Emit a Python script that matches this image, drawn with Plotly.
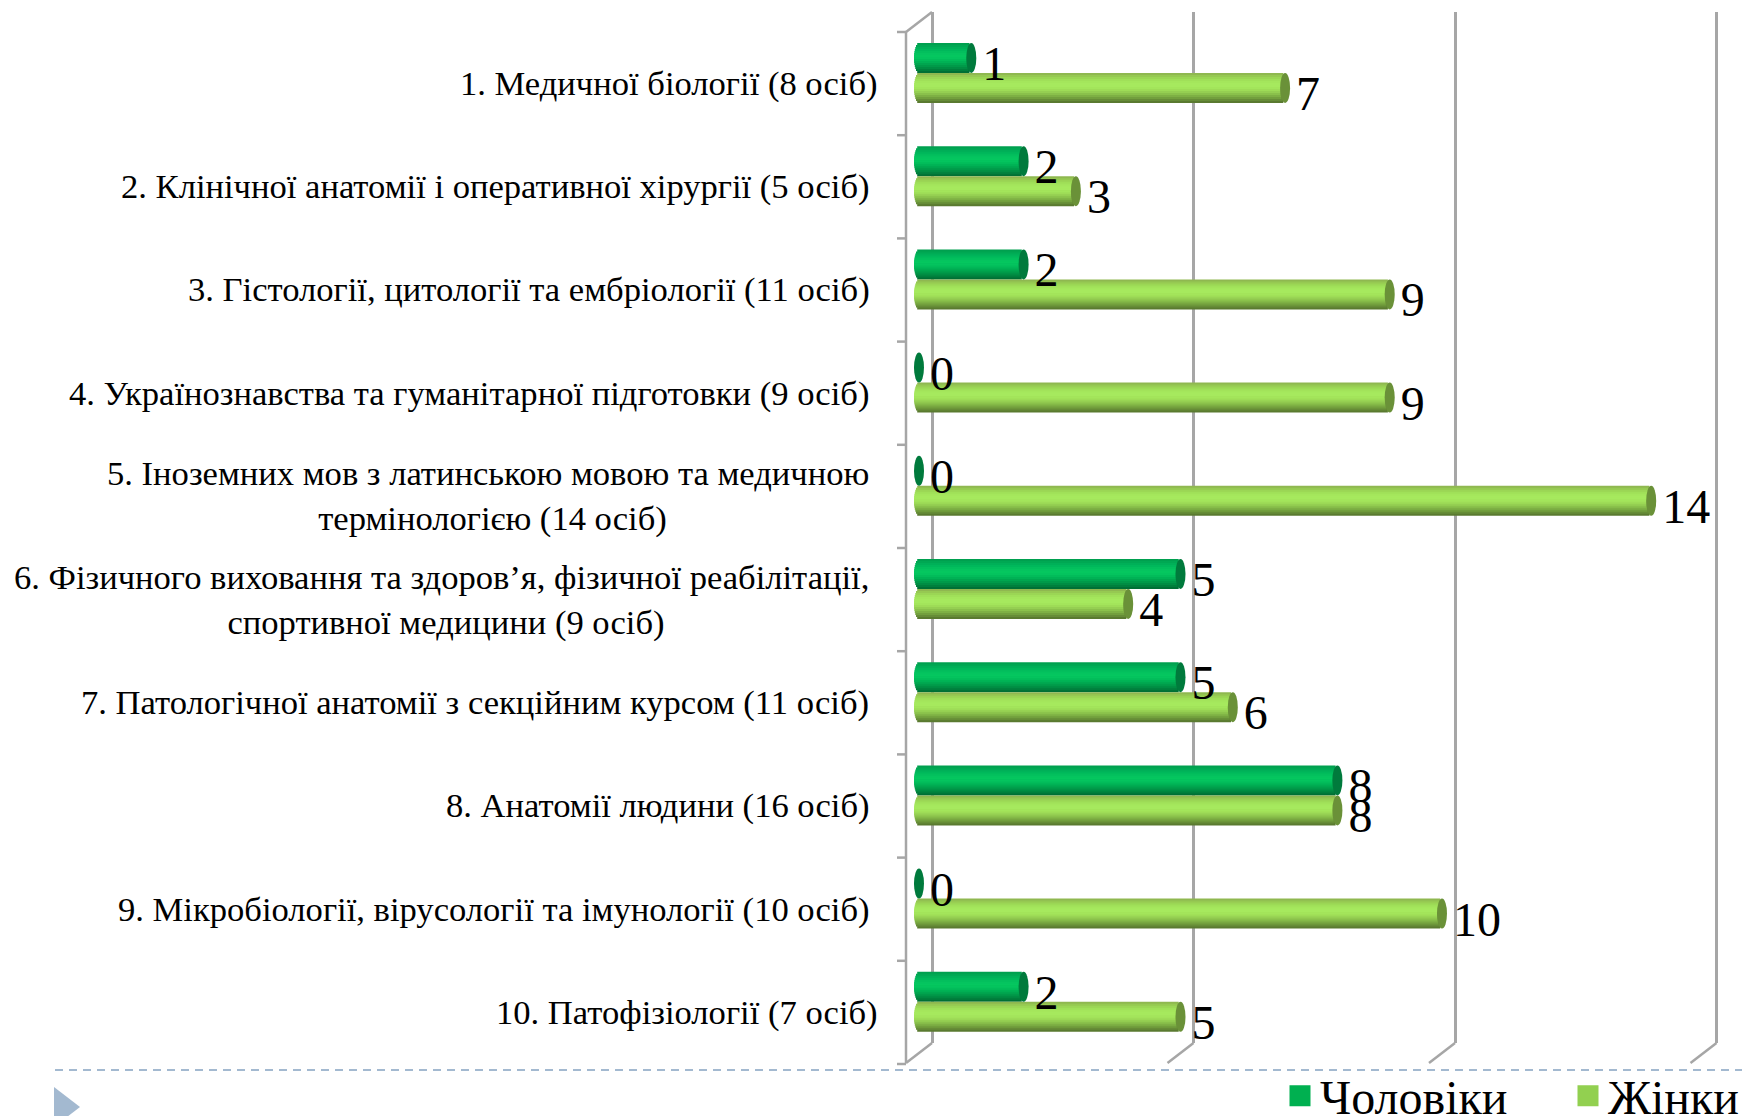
import numpy as np
import plotly.graph_objects as go

W, H = 1742, 1116

departments = [
    "1. Медичної біології (8 осіб)",
    "2. Клінічної анатомії і оперативної хірургії (5 осіб)\u00a0",
    "3. Гістології, цитології та ембріології (11 осіб)\u00a0",
    "4. Українознавства та гуманітарної підготовки (9 осіб)\u00a0",
    "5. Іноземних мов з латинською мовою та медичною\u00a0<br>термінологією (14 осіб)",
    "6. Фізичного виховання та здоров’я, фізичної реабілітації,\u00a0<br>спортивної медицини (9 осіб)",
    "7. Патологічної анатомії з секційним курсом (11 осіб)\u00a0",
    "8. Анатомії людини (16 осіб)\u00a0",
    "9. Мікробіології, вірусології та імунології (10 осіб)\u00a0",
    "10. Патофізіології (7 осіб)",
]
men = [1, 2, 2, 0, 0, 5, 5, 8, 0, 2]
women = [7, 3, 9, 9, 14, 4, 6, 8, 10, 5]
grid_values = [0, 5, 10, 15]

men_shades = ["#00a04f", "#00a853", "#00b058", "#00b85b", "#03bf5d", "#05c45f", "#05c75f", "#04c45e",
              "#02bc5a", "#00b255", "#00a64f", "#009a49", "#008d43", "#007f3c", "#007035"]
women_shades = ["#8fb850", "#96c952", "#9bd655", "#a0e059", "#a4e65c", "#a6e95e", "#a6e95e", "#a3e55b",
                "#9edc57", "#95cf52", "#8ac14b", "#7eb044", "#729f3d", "#668c37", "#5a7a30"]

# pixel layout of the picture
zero_px, unit_px = 919, 52.3
first_px, pitch_px = 73, 103.2
top_px, bottom_px = 12, 1043
depth_x, depth_y = 13, 10


def x_of(px):
    return (px - zero_px) / unit_px


def y_of(px):
    return (px - first_px) / pitch_px


def fx(px):
    return px / W


def fy(px):
    return 1 - px / H


positions = np.arange(len(departments))
bar_h = 30 / pitch_px
cap = 5 / unit_px
n_bands = len(men_shades)
band_h = bar_h / n_bands

fig = go.Figure()


def add_cylinder(values, shades, start, cap_color):
    # outer bands first, each reaching to the middle, so no gaps show between them
    mid = (n_bands - 1) / 2
    for b in sorted(range(n_bands), key=lambda i: -abs(i - mid)):
        t = (b + 0.5) / n_bands * 2 - 1
        inset = cap * np.sqrt(1 - t**2)
        if b < mid:
            off, wid = start + b * band_h, (mid - b + 1) * band_h
        else:
            off, wid = start + mid * band_h, (b - mid + 1) * band_h
        fig.add_trace(
            go.Bar(
                y=positions,
                x=values,
                base=-inset,
                orientation="h",
                offset=off,
                width=wid,
                marker=dict(color=shades[b], line=dict(width=0)),
                showlegend=False,
                hoverinfo="skip",
            )
        )
    for pos, val in zip(positions, values):
        fig.add_shape(
            type="circle",
            xref="x",
            yref="y",
            x0=val - cap,
            x1=val + cap,
            y0=pos + start,
            y1=pos + start + bar_h,
            fillcolor=cap_color,
            line=dict(width=0),
        )


add_cylinder(men, men_shades, -bar_h, "#007a3c")
add_cylinder(women, women_shades, 0, "#6a9138")

label_font = dict(family="Liberation Serif", size=48, color="black")
for values, shift in ((men, -bar_h / 2), (women, bar_h / 2)):
    fig.add_trace(
        go.Scatter(
            x=np.array(values) + cap + 6 / unit_px,
            y=positions + shift + 10 / pitch_px,
            mode="text",
            text=[str(v) for v in values],
            textposition="middle right",
            textfont=label_font,
            showlegend=False,
            hoverinfo="skip",
        )
    )

# legend entries, no drawn points
for name, color in (("Чоловіки", "#00b050"), ("Жінки", "#92d050")):
    fig.add_trace(
        go.Scatter(
            x=[None],
            y=[None],
            mode="markers",
            name=name,
            marker=dict(symbol="square", size=16, color=color, line=dict(width=5, color=color)),
        )
    )

for pos, text in zip(positions, departments):
    fig.add_annotation(
        xref="paper",
        yref="y",
        x=fx(879.5),
        y=pos + 10.5 / pitch_px,
        text=text,
        showarrow=False,
        xanchor="right",
        yanchor="middle",
        align="center",
        font=dict(family="Liberation Serif", size=34.6, color="black"),
    )

wall = dict(color="#a6a6a6", width=2.5)
front_px = zero_px - depth_x
front_top, front_bottom = top_px + 2 * depth_y, bottom_px + 2 * depth_y


def line(x0, y0, x1, y1, **style):
    fig.add_shape(
        type="line",
        xref="paper",
        yref="paper",
        x0=fx(x0),
        y0=fy(y0),
        x1=fx(x1),
        y1=fy(y1),
        line=style or wall,
        layer="below",
    )


line(front_px, front_top, front_px, front_bottom)
line(front_px, front_top, front_px + 2 * depth_x, top_px)
for k in range(len(departments) + 1):
    tick_y = front_top + k * pitch_px
    line(front_px - 9, tick_y, front_px, tick_y)
for g in grid_values:
    back_x = zero_px + depth_x + g * unit_px
    line(back_x, bottom_px, back_x - 2 * depth_x, front_bottom)

# slide footer
line(55, 1070, W, 1070, color="#a3b9d0", width=2, dash="8px,6px")
fig.add_shape(
    type="path",
    xref="paper",
    yref="paper",
    path=f"M {fx(54)} {fy(1087)} L {fx(80)} {fy(1107)} L {fx(54)} {fy(1127)} Z",
    fillcolor="#a3b9d0",
    line=dict(width=0),
)

fig.update_layout(
    width=W,
    height=H,
    margin=dict(l=0, r=0, t=0, b=0, autoexpand=False),
    paper_bgcolor="white",
    plot_bgcolor="white",
    barmode="overlay",
    font=dict(family="Liberation Serif"),
    showlegend=True,
    legend=dict(
        orientation="h",
        x=fx(1280),
        y=fy(1058),
        xanchor="left",
        yanchor="top",
        bgcolor="rgba(0,0,0,0)",
        font=dict(family="Liberation Serif", size=48, color="black"),
        itemsizing="trace",
        entrywidth=243,
        entrywidthmode="pixels",
    ),
    xaxis=dict(
        domain=[0, 1],
        range=[x_of(0), x_of(W)],
        tickmode="array",
        tickvals=[v + depth_x / unit_px for v in grid_values],
        showticklabels=False,
        ticks="",
        showgrid=True,
        gridcolor="#a6a6a6",
        gridwidth=2.5,
        zeroline=False,
        showline=False,
    ),
    yaxis=dict(
        domain=[fy(bottom_px), fy(top_px)],
        range=[y_of(bottom_px), y_of(top_px)],
        showticklabels=False,
        ticks="",
        showgrid=False,
        zeroline=False,
        showline=False,
    ),
)

fig.write_html(
    "out.html",
    config=dict(displayModeBar=False),
    post_script="document.body.style.margin='0';",
)
